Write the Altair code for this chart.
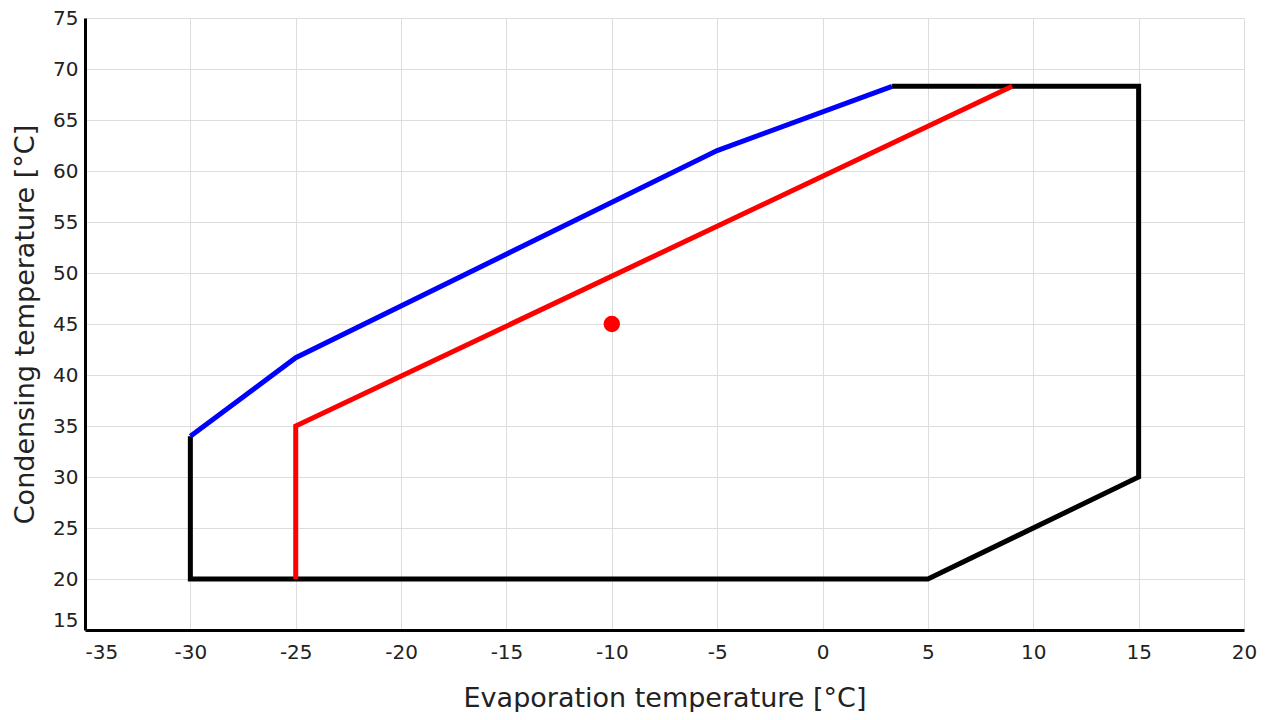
import altair as alt
import pandas as pd

# Envelope (black), limit line (blue), second limit (red), operating point
black_x = [-30, -30, 5, 15, 15, 3.3]
black_y = [34, 20, 20, 30, 68.3, 68.3]
blue_x = [-30, -25, -5, 3.3]
blue_y = [34, 41.7, 62, 68.3]
red_x = [-25, -25, 9]
red_y = [20, 35, 68.3]
point_x = [-10]
point_y = [45]

x_ticks = [-35, -30, -25, -20, -15, -10, -5, 0, 5, 10, 15, 20]
y_ticks = [15, 20, 25, 30, 35, 40, 45, 50, 55, 60, 65, 70, 75]

rows = []
for name, xs, ys in [("black", black_x, black_y), ("blue", blue_x, blue_y), ("red", red_x, red_y)]:
    for i, (xv, yv) in enumerate(zip(xs, ys)):
        rows.append({"series": name, "order": i, "x": xv, "y": yv})
lines_df = pd.DataFrame(rows)
pt_df = pd.DataFrame({"x": point_x, "y": point_y})

xscale = alt.Scale(domain=[-35, 20], nice=False, zero=False)
yscale = alt.Scale(domain=[15, 75], nice=False, zero=False)

x_axis = alt.Axis(
    title="Evaporation temperature [°C]",
    values=x_ticks,
    ticks=False,
    tickSize=0,
    labelPadding=12,
    labelFontSize=20,
    titleFontSize=27,
    titlePadding=23,
    labelExpr="'' + datum.value",
    labelAlign=alt.ExprRef("datum.value == -35 ? 'left' : 'center'"),
    labelFlush=False,
)
y_axis = alt.Axis(
    title="Condensing temperature [°C]",
    values=y_ticks,
    ticks=False,
    tickSize=0,
    labelPadding=7,
    labelFontSize=20,
    titleFontSize=27,
    titlePadding=13,
    labelExpr="'' + datum.value",
    labelBaseline=alt.ExprRef("datum.value == 15 ? 'bottom' : 'middle'"),
    labelFlush=False,
)

lines = alt.Chart(lines_df).mark_line(strokeWidth=5, strokeJoin="miter").encode(
    x=alt.X("x:Q", scale=xscale, axis=x_axis),
    y=alt.Y("y:Q", scale=yscale, axis=y_axis),
    color=alt.Color("series:N", scale=alt.Scale(domain=["black", "blue", "red"], range=["#000000", "#0000ff", "#ff0000"]), legend=None),
    detail="series:N",
    order="order:Q",
)

pts = alt.Chart(pt_df).mark_circle(size=270, color="#ff0000", opacity=1).encode(
    x=alt.X("x:Q", scale=xscale),
    y=alt.Y("y:Q", scale=yscale),
)

chart = alt.layer(lines, pts).properties(
    width=1159,
    height=612,
    autosize=alt.AutoSizeParams(type="none"),
    padding={"left": 77, "top": 10, "right": 18, "bottom": 82},
).configure_axis(
    labelFont="DejaVu Sans",
    titleFont="DejaVu Sans",
    labelColor="#222222",
    titleColor="#222222",
    titleFontWeight="normal",
    gridColor="#dddddd",
    gridWidth=1,
    domainColor="#000000",
    domainWidth=3,
).configure_view(stroke=None)

chart.save("out.html", embed_options={"renderer": "svg", "actions": False})
